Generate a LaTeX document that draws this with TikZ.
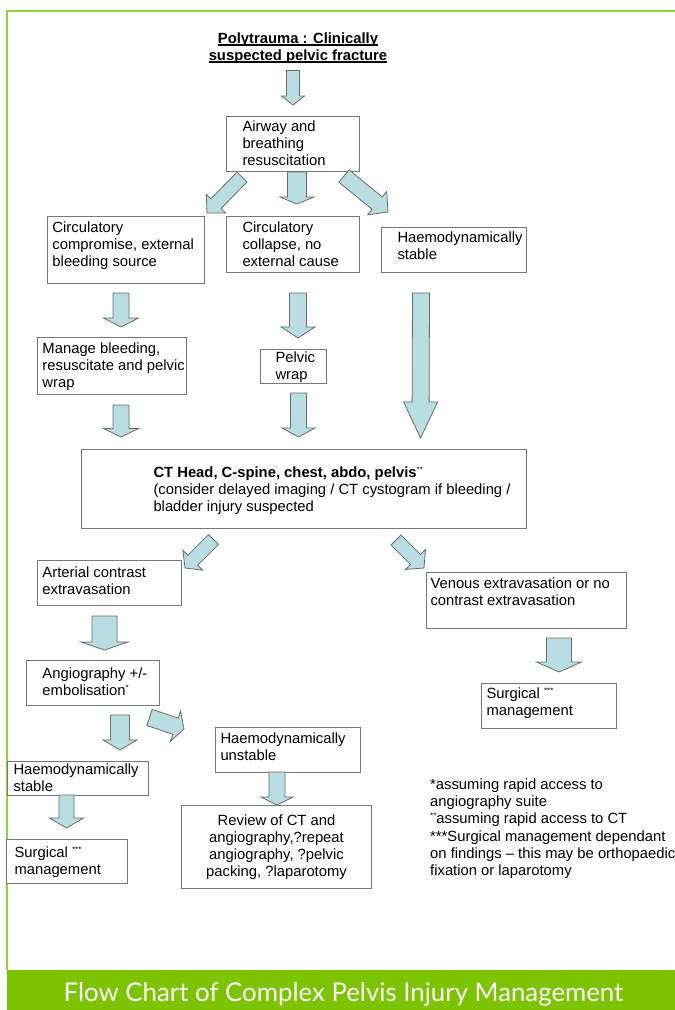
\documentclass[tikz,border=0pt]{standalone}
\usepackage{fontspec}
\setmainfont{Liberation Sans}
\newfontfamily\footfont{Lato}
\usetikzlibrary{calc}
\definecolor{arrfill}{RGB}{184,222,226}
\definecolor{arrline}{RGB}{100,110,112}
\definecolor{boxline}{RGB}{120,120,120}
\definecolor{brdgreen}{RGB}{140,214,60}
\definecolor{footgreen}{RGB}{125,196,0}
\newcommand\bt[6]{\parbox[c][#2pt][t]{#1pt}{\vspace*{#4pt}#3\begin{tabular}[t]{@{}#5@{}}#6\end{tabular}}}
\newcommand\ssup[1]{\raisebox{5pt}{\fontsize{8}{8}\selectfont #1}}
\newcommand\ulx[1]{\setbox0=\hbox{#1}\rlap{\rule[-2.2pt]{\wd0}{1.1pt}}\box0}
\newcommand\barrow[6]{%
  \coordinate (#1-s) at #2;
  \coordinate (#1-e) at #3;
  \coordinate (#1-n) at ($(#1-e)!#6pt!(#1-s)$);
  \draw[blockarrow] ($(#1-s)!#4pt!90:(#1-e)$) -- ($(#1-n)!#4pt!90:(#1-e)$) -- ($(#1-n)!#5pt!90:(#1-e)$) -- (#1-e) -- ($(#1-n)!#5pt!-90:(#1-e)$) -- ($(#1-n)!#4pt!-90:(#1-e)$) -- ($(#1-s)!#4pt!-90:(#1-e)$) -- cycle;}
\begin{document}
\begin{tikzpicture}[x=1pt,y=-1pt,
  box/.style={draw=boxline, line width=1pt, fill=white, inner sep=0pt, anchor=north west, font=\fontsize{14.8}{17}\selectfont},
  blockarrow/.style={fill=arrfill, draw=arrline, line width=0.8pt, line join=miter},
  notes/.style={anchor=north west, inner sep=0pt, font=\fontsize{14.8}{17.3}\selectfont},
  brd/.style={draw=brdgreen, line width=1.6pt}]
\useasboundingbox (0,0) rectangle (675,1010);
\fill[white] (0,0) rectangle (675,1010);
% frame
\draw[brd] (6.7,970) -- (6.7,10.8) -- (675,10.8);
% title
\node[inner sep=0pt, font=\bfseries\fontsize{14.8}{17}\selectfont] (title) at (298,48.4)
  {\begin{tabular}{@{}c@{}}\ulx{Polytrauma : Clinically}\\\ulx{suspected pelvic fracture}\end{tabular}};
% boxes
\node[box] (airway) at (226,116) {\bt{133}{55}{\hspace*{16pt}}{3.5}{l}{Airway and\\breathing\\resuscitation}};
\node[box] (comp) at (47,216) {\bt{157}{67}{\hspace*{5pt}}{3.9}{l}{Circulatory\\compromise, external\\bleeding source}};
\node[box] (collapse) at (226,216) {\bt{133}{56}{\hspace*{16pt}}{3.9}{l}{Circulatory\\collapse, no\\external cause}};
\node[box] (stable) at (381,227) {\bt{145}{45}{\hspace*{16pt}}{3.5}{l}{Haemodynamically\\stable}};
\node[box] (manage) at (37,337) {\bt{149}{57}{\hspace*{5pt}}{4.5}{l}{Manage bleeding,\\resuscitate and pelvic\\wrap}};
\node[box] (wrap) at (260,349) {\bt{66}{34}{\hspace*{15pt}}{0.9}{l}{Pelvic\\wrap}};
\node[box] (ct) at (81,449) {\bt{445}{79}{\hspace*{72pt}}{15.9}{l}{\textbf{CT Head, C-spine, chest, abdo, pelvis}\ssup{**}\\(consider delayed imaging / CT cystogram if bleeding /\\bladder injury suspected}};
\node[box] (arterial) at (37,560) {\bt{144}{45}{\hspace*{5pt}}{4.9}{l}{Arterial contrast\\extravasation}};
\node[box] (venous) at (426,572) {\bt{200}{56}{\hspace*{4pt}}{4.5}{l}{Venous extravasation or no\\contrast extravasation}};
\node[box] (angio) at (26,660) {\bt{133}{45}{\hspace*{16pt}}{6.5}{l}{Angiography +/-\\embolisation\ssup{*}}};
\node[box] (surgr) at (481,683) {\bt{135}{45}{\hspace*{5pt}}{3.5}{l}{Surgical \ssup{***}\\management}};
\node[box] (unstable) at (215,727) {\bt{145}{45}{\hspace*{5pt}}{4.5}{l}{Haemodynamically\\unstable}};
\node[box] (stablel) at (7,761) {\bt{141}{34}{\hspace*{6pt}}{1.5}{l}{Haemodynamically\\stable}};
\node[box] (surgl) at (6,839) {\bt{121}{44}{\hspace*{8pt}}{6.5}{l}{Surgical \ssup{***}\\management}};
\node[box] (review) at (181,805) {\bt{190}{83}{\centering}{8.2}{c}{Review of CT and\\angiography,?repeat\\angiography, ?pelvic\\packing, ?laparotomy}};
% block arrows
\barrow{a1}{(293,70.5)}{(293,105)}{6.5}{11.5}{9}
\barrow{a2}{(242,177)}{(207,213)}{7}{13.5}{13}
\barrow{a3}{(297,172)}{(297,204)}{9.5}{17}{7}
\barrow{a4}{(344,176)}{(388,212)}{8}{15}{14}
\barrow{a5}{(121,293)}{(121,327)}{8}{17.5}{9}
\barrow{a6}{(298,293)}{(298,338)}{8.5}{17}{11}
\barrow{a7}{(421,293)}{(420.5,438)}{8.5}{17}{36}
\barrow{a8}{(121,405)}{(121,437)}{8}{17.5}{8.5}
\barrow{a9}{(298.5,393)}{(298.5,437)}{8}{16.5}{9}
\barrow{a10}{(213.5,539.5)}{(185,568)}{7}{14}{11}
\barrow{a11}{(396,540)}{(424,568)}{7}{14}{12}
\barrow{a12}{(104.5,616)}{(104.5,650)}{12.5}{23.5}{8}
\barrow{a13}{(559,638)}{(559,672)}{12.5}{22.5}{10}
\barrow{a14}{(120,715)}{(120,750)}{9.5}{17}{10}
\barrow{a15}{(149.5,717.5)}{(184,729)}{8.5}{16}{9}
\barrow{a16}{(66.5,795)}{(66.5,828)}{7.5}{17}{10}
\barrow{a17}{(277,772)}{(277,805)}{8}{16}{8}
% notes
\node[notes] (notes) at (430,776.8) {\begin{tabular}{@{}l@{}}*assuming rapid access to\\angiography suite\\{}\ssup{**}assuming rapid access to CT\\{}***Surgical management dependant\\on findings – this may be orthopaedic\\fixation or laparotomy\end{tabular}};
% footer
\node[fill=footgreen, inner sep=0pt, minimum width=668.3pt, minimum height=40pt, anchor=north west] (footer) at (6.7,970) {};
\node[text=white, inner sep=0pt, anchor=base, font=\footfont\fontsize{25.8}{25.8}\selectfont] (foottext) at (343.5,1001) {Flow Chart of Complex Pelvis Injury Management};
\end{tikzpicture}
\end{document}
